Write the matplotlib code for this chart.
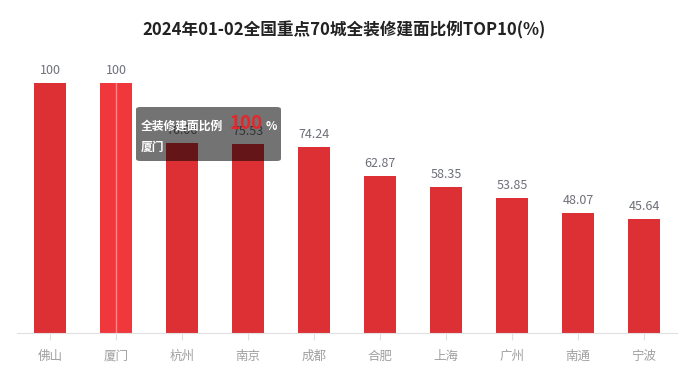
import matplotlib.pyplot as plt
from matplotlib.patches import FancyBboxPatch

plt.rcParams['font.family'] = ['Noto Sans CJK SC', 'DejaVu Sans']

cities = ['佛山', '厦门', '杭州', '南京', '成都', '合肥', '上海', '广州', '南通', '宁波']
ratio = [100, 100, 76.06, 75.53, 74.24, 62.87, 58.35, 53.85, 48.07, 45.64]
hover = 1  # 厦门 is highlighted with the tooltip

fig = plt.figure(figsize=(6.88, 3.79), dpi=100)
ax = fig.add_axes([17 / 688, 1 - 333 / 379, 660 / 688, 250 / 379])

x = list(range(len(cities)))
colors = ['#dc3035'] * len(cities)
colors[hover] = '#f0373c'
ax.bar(x, ratio, width=0.49, color=colors, zorder=2)
# axis pointer line
ax.axvline(hover, color='#ff8a8d', lw=1, zorder=3)

for i, v in enumerate(ratio):
    ax.text(i, v + 2.5, f'{v:g}' if v == 100 else f'{v:.2f}', ha='center', va='bottom',
            fontsize=9, color='#6e7079', zorder=1)

ax.set_xlim(-0.5, len(cities) - 0.5)
ax.set_ylim(0, 100)
ax.set_xticks(x)
ax.set_xticklabels(cities, fontsize=9, color='#a0a0a0')
ax.tick_params(axis='x', length=5, color='#e0e0e0', pad=7)
ax.set_yticks([])
for s in ['top', 'right', 'left']:
    ax.spines[s].set_visible(False)
ax.spines['bottom'].set_color('#e0e0e0')

fig.text(0.5, 1 - 30 / 379, '2024年01-02全国重点70城全装修建面比例TOP10(%)', ha='center', va='center',
         fontsize=12, fontweight='bold', color='#222')

# tooltip
box = FancyBboxPatch((136 / 688, 1 - 161 / 379), 145 / 688, 54 / 379,
                     boxstyle='round,pad=0,rounding_size=0.006', transform=fig.transFigure,
                     facecolor='#000000', alpha=0.55, edgecolor='none', zorder=10)
fig.add_artist(box)
fig.text(141 / 688, 1 - 126 / 379, '全装修建面比例', fontsize=8.5, color='white', fontweight='bold',
         va='center', zorder=11)
fig.text(246 / 688, 1 - 124 / 379, '100', fontsize=13.5, color='#e8252b', fontweight='bold',
         va='center', ha='center', zorder=11)
fig.text(266 / 688, 1 - 126 / 379, '%', fontsize=8.5, color='white', fontweight='bold',
         va='center', zorder=11)
fig.text(141 / 688, 1 - 147 / 379, '厦门', fontsize=8.5, color='white', fontweight='bold',
         va='center', zorder=11)

fig.savefig('out.png', dpi=100)
